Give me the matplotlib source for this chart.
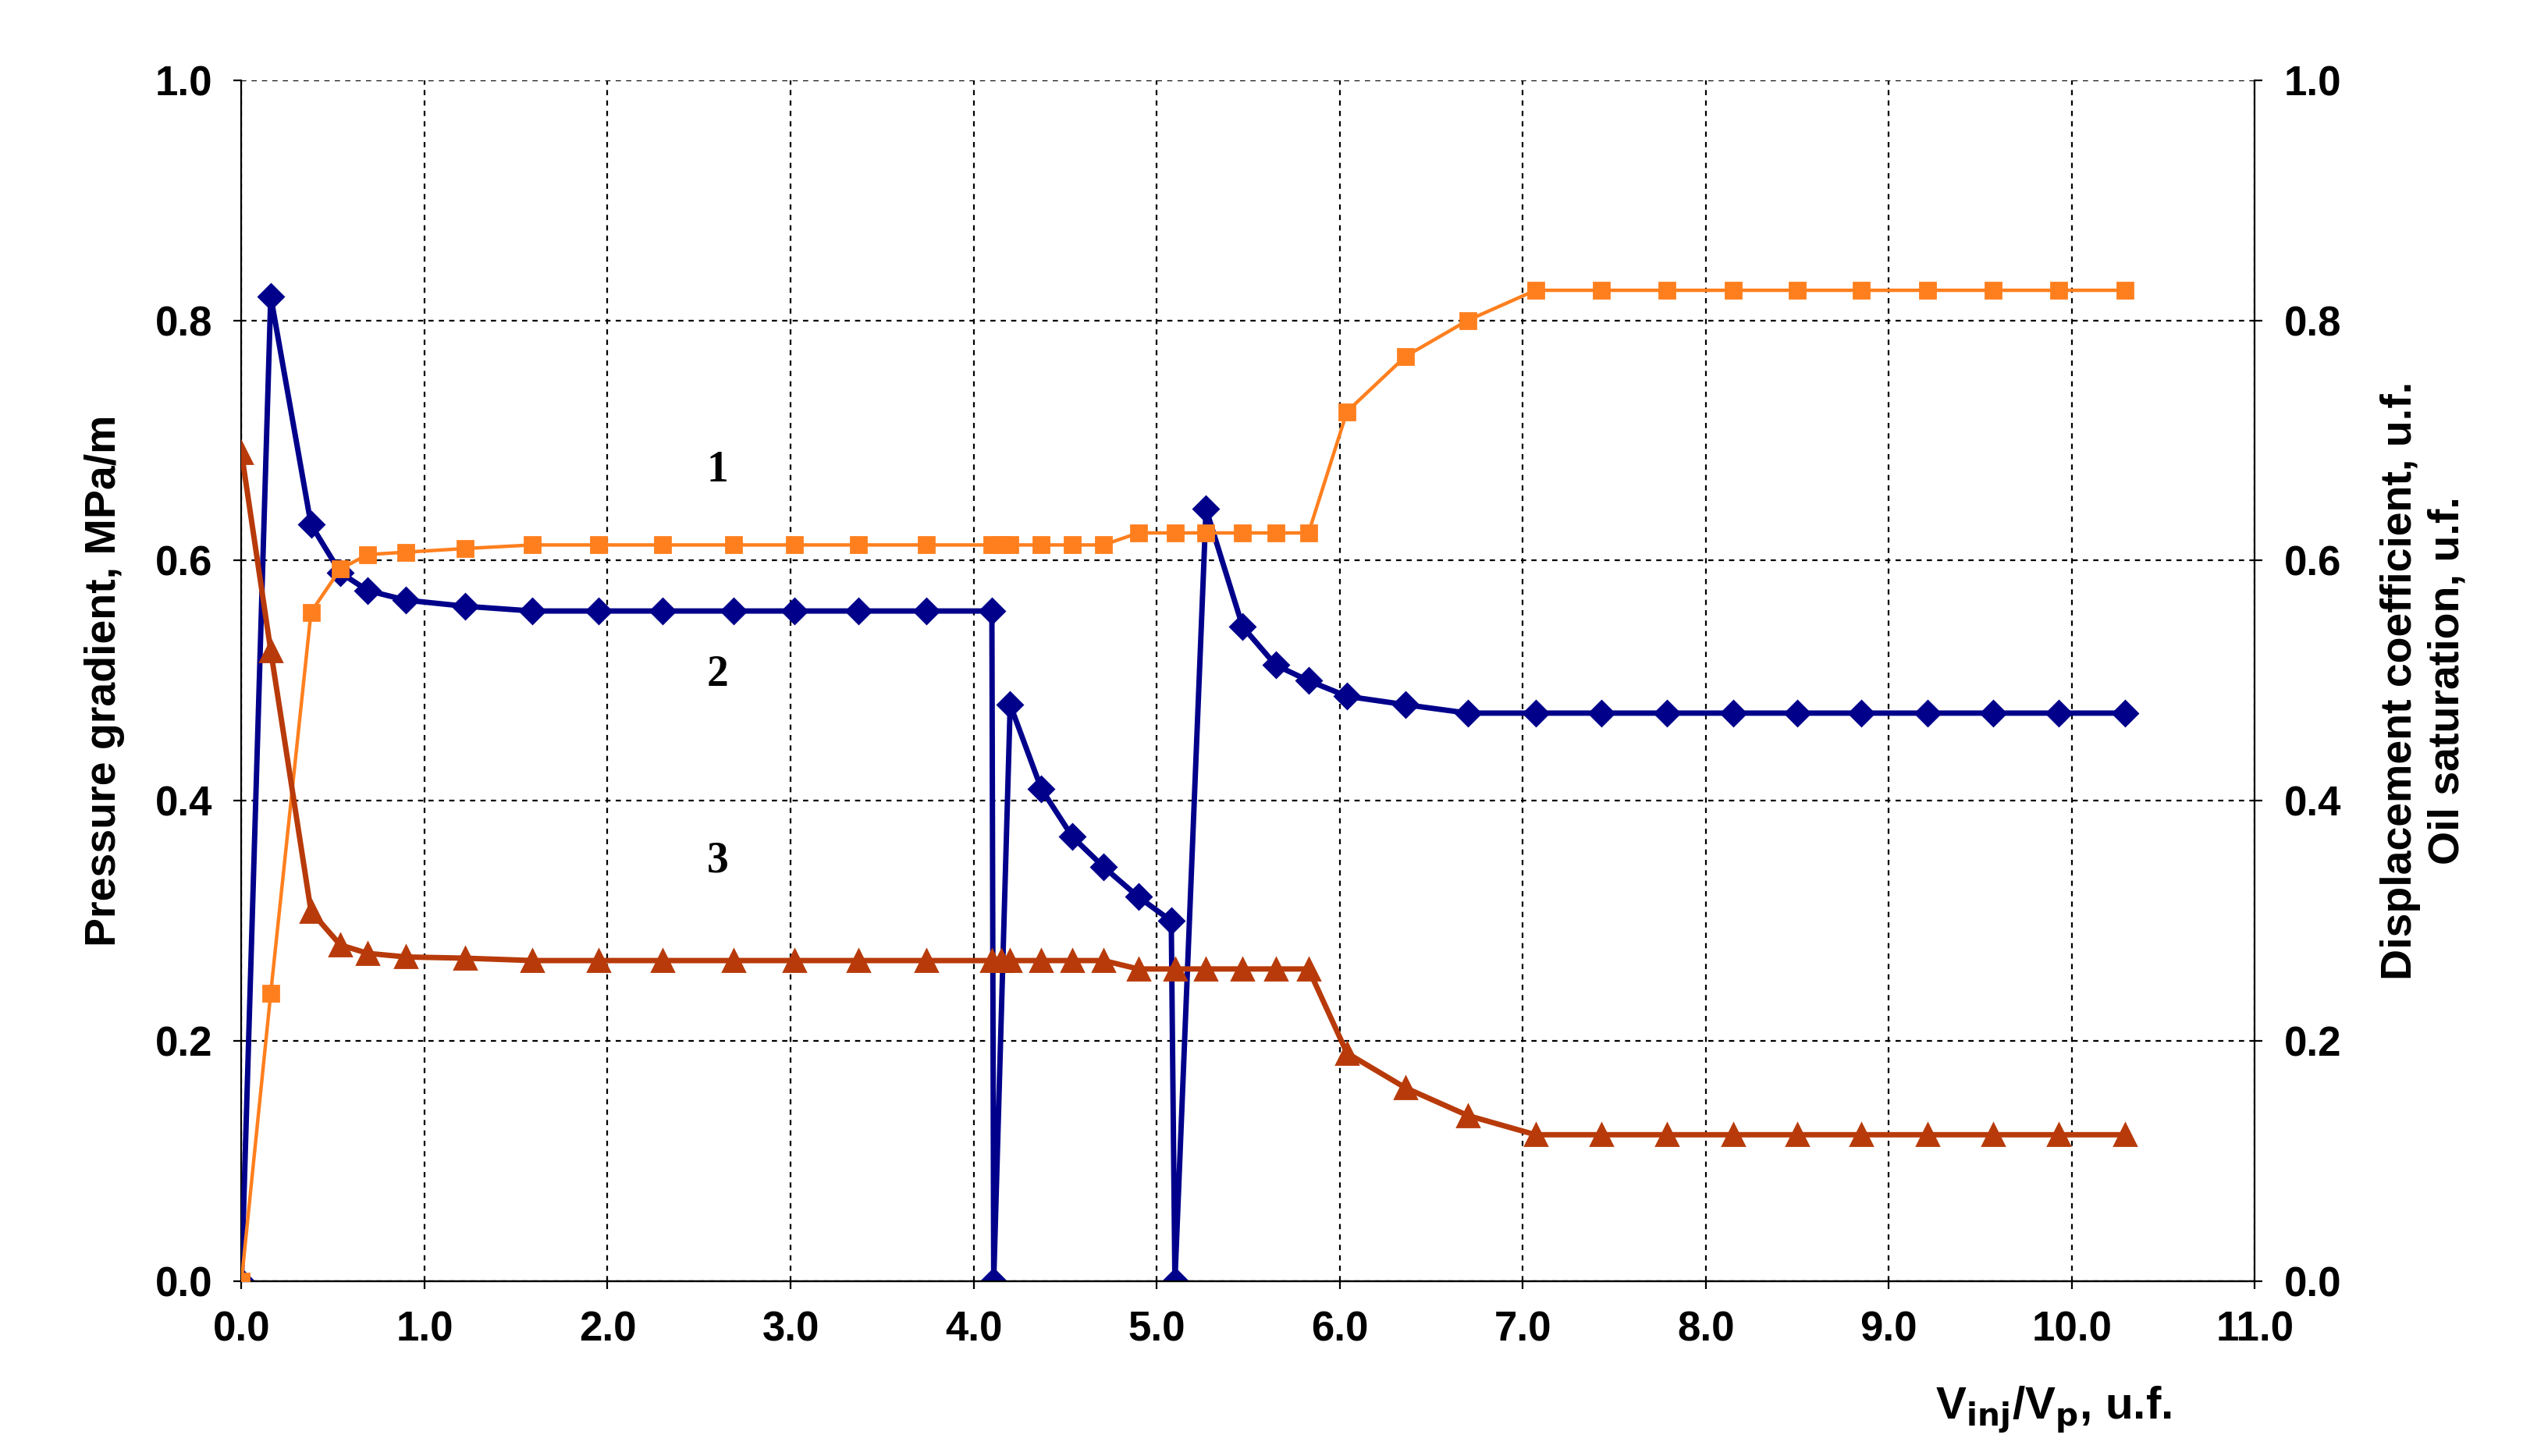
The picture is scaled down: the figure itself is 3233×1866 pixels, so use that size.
import matplotlib
matplotlib.use("Agg")
import matplotlib.pyplot as plt

plt.rcParams['font.family'] = ['Liberation Sans', 'DejaVu Sans']
plt.rcParams['font.weight'] = 'bold'

x_blue = [0, 0.16, 0.38, 0.54, 0.69, 0.9, 1.22, 1.59, 1.95, 2.30, 2.69, 3.02, 3.37, 3.74, 4.10,
          4.11, 4.20, 4.37, 4.54, 4.71, 4.90, 5.08, 5.10, 5.27, 5.47, 5.65, 5.83, 6.04, 6.36, 6.70,
          7.07, 7.43, 7.79, 8.15, 8.50, 8.85, 9.21, 9.57, 9.93, 10.29]
pressure = [0, 0.82, 0.63, 0.59, 0.575, 0.567, 0.562, 0.558, 0.558, 0.558, 0.558, 0.558, 0.558, 0.558, 0.558,
            0, 0.48, 0.41, 0.37, 0.345, 0.32, 0.30, 0, 0.643, 0.545, 0.513, 0.50, 0.487, 0.48, 0.473,
            0.473, 0.473, 0.473, 0.473, 0.473, 0.473, 0.473, 0.473, 0.473, 0.473]

x_sq = [0, 0.16, 0.38, 0.54, 0.69, 0.9, 1.22, 1.59, 1.95, 2.30, 2.69, 3.02, 3.37, 3.74, 4.10, 4.15, 4.20,
        4.37, 4.54, 4.71, 4.90, 5.10, 5.27, 5.47, 5.65, 5.83, 6.04, 6.36, 6.70,
        7.07, 7.43, 7.79, 8.15, 8.50, 8.85, 9.21, 9.57, 9.93, 10.29]
displacement = [0, 0.24, 0.557, 0.593, 0.605, 0.607, 0.61, 0.613, 0.613, 0.613, 0.613, 0.613, 0.613, 0.613,
                0.613, 0.613, 0.613, 0.613, 0.613, 0.613, 0.623, 0.623, 0.623, 0.623, 0.623, 0.623,
                0.724, 0.77, 0.80, 0.825, 0.825, 0.825, 0.825, 0.825, 0.825, 0.825, 0.825, 0.825, 0.825]
oil_sat = [0.69, 0.525, 0.308, 0.28, 0.273, 0.27, 0.269, 0.267, 0.267, 0.267, 0.267, 0.267, 0.267, 0.267,
           0.267, 0.267, 0.267, 0.267, 0.267, 0.267, 0.26, 0.26, 0.26, 0.26, 0.26, 0.26,
           0.19, 0.161, 0.138, 0.122, 0.122, 0.122, 0.122, 0.122, 0.122, 0.122, 0.122, 0.122, 0.122]
x_tri = x_sq

fig = plt.figure(figsize=(16.165, 9.33), dpi=200)
ax = fig.add_axes([0.0957, 0.120, 0.798, 0.825])
ax2 = ax.twinx()

ax.plot(x_blue, pressure, color='#00008B', lw=2.5, marker='D', ms=8, zorder=3)
ax2.plot(x_sq, displacement, color='#FF7F1E', lw=1.6, marker='s', ms=7, zorder=3)
ax2.plot(x_tri, oil_sat, color='#B83A0A', lw=2.5, marker='^', ms=10, zorder=3)

for a in (ax, ax2):
    a.set_ylim(0, 1.0)
    a.set_yticks([0, 0.2, 0.4, 0.6, 0.8, 1.0])
    a.set_yticklabels(['0.0', '0.2', '0.4', '0.6', '0.8', '1.0'], fontsize=19, fontweight='bold')
    a.tick_params(axis='y', pad=10)
ax.set_xlim(0, 11)
ax.set_xticks(range(12))
ax.set_xticklabels([f'{i}.0' for i in range(12)], fontsize=19, fontweight='bold')
ax.tick_params(axis='x', pad=10)
ax.grid(True, color='black', linestyle=(0, (3, 3)), lw=0.8)
ax.set_axisbelow(True)
for s in ('top', 'right'):
    ax.spines[s].set_visible(False)
    ax2.spines[s].set_visible(False)
ax2.spines['left'].set_visible(False)
ax2.spines['right'].set_visible(True)

ax.set_ylabel('Pressure gradient, MPa/m', fontsize=20, fontweight='bold', labelpad=14)
ax2.set_ylabel('Displacement coefficient, u.f.\nOil saturation, u.f.', fontsize=20, fontweight='bold', labelpad=18)
fig.text(0.814, 0.025, r'V$_{\mathbf{inj}}$/V$_{\mathbf{p}}$, u.f.', fontsize=21, fontweight='bold', ha='center')

for lab, y in (('1', 0.675), ('2', 0.505), ('3', 0.35)):
    ax.text(2.6, y, lab, fontsize=20, fontweight='bold', family='Liberation Serif', ha='center', va='center')

fig.savefig('out.png', dpi=200)
